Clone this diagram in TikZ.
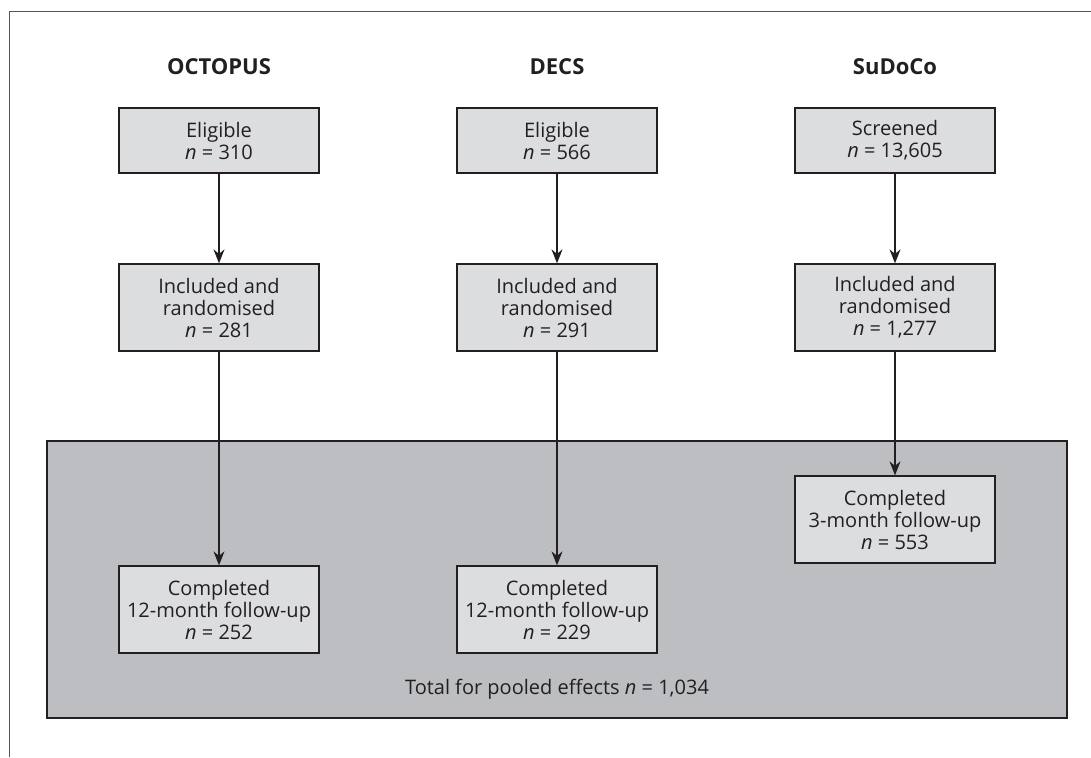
\documentclass[tikz,border=0pt]{standalone}
\usepackage{fontspec}
\setmainfont{Open Sans}
\usetikzlibrary{arrows.meta}
\definecolor{boxgrey}{HTML}{DCDDDF}
\definecolor{poolgrey}{HTML}{BDBEC2}
\definecolor{ink}{HTML}{231F20}
\definecolor{framegrey}{HTML}{555555}

\begin{document}
\begin{tikzpicture}[x=1pt,y=-1pt,>={Stealth[length=14pt,width=11pt]},
    flow node/.style={draw=ink,line width=1.3pt,fill=boxgrey,minimum width=200pt,inner sep=0pt,align=center,text=ink,font=\fontsize{20}{22}\selectfont},
    title node/.style={text=ink,font=\fontsize{22}{24}\selectfont\bfseries},
    flow/.style={->,draw=ink,line width=1.4pt}]
    \useasboundingbox (0,0) rectangle (1091,757);
    \draw[framegrey,line width=1pt] (9,757) |- (1091,12);

    % pooled area behind the last boxes
    \node[draw=ink,line width=2pt,fill=poolgrey,minimum width=1020pt,minimum height=277pt] (pool) at (557,579.5) {};
    \node[text=ink,font=\fontsize{20}{22}\selectfont] (pooltext) at (557,689) {Total for pooled effects \textit{n} = 1,034};

    \node[title node] (octopus) at (219,67) {OCTOPUS};
    \node[title node] (decs) at (557,67) {DECS};
    \node[title node] (sudoco) at (895,67) {SuDoCo};

    \node[flow node,minimum height=65pt] (elig1) at (219,140.5) {Eligible\\\textit{n} = 310};
    \node[flow node,minimum height=65pt] (elig2) at (557,140.5) {Eligible\\\textit{n} = 566};
    \node[flow node,minimum height=65pt] (scr3) at (895,140.5) {Screened\\\textit{n} = 13,605};

    \node[flow node,minimum height=87pt] (incl1) at (219,307.5) {Included and\\randomised\\\textit{n} = 281};
    \node[flow node,minimum height=87pt] (incl2) at (557,307.5) {Included and\\randomised\\\textit{n} = 291};
    \node[flow node,minimum height=87pt] (incl3) at (895,307.5) {Included and\\randomised\\\textit{n} = 1,277};

    \node[flow node,minimum height=87pt] (comp1) at (219,609.5) {Completed\\12-month follow-up\\\textit{n} = 252};
    \node[flow node,minimum height=87pt] (comp2) at (557,609.5) {Completed\\12-month follow-up\\\textit{n} = 229};
    \node[flow node,minimum height=87pt] (comp3) at (895,519.5) {Completed\\3-month follow-up\\\textit{n} = 553};

    \draw[flow] (elig1) -- (incl1);
    \draw[flow] (elig2) -- (incl2);
    \draw[flow] (scr3) -- (incl3);
    \draw[flow] (incl1) -- (comp1);
    \draw[flow] (incl2) -- (comp2);
    \draw[flow] (incl3) -- (comp3);
\end{tikzpicture}
\end{document}
